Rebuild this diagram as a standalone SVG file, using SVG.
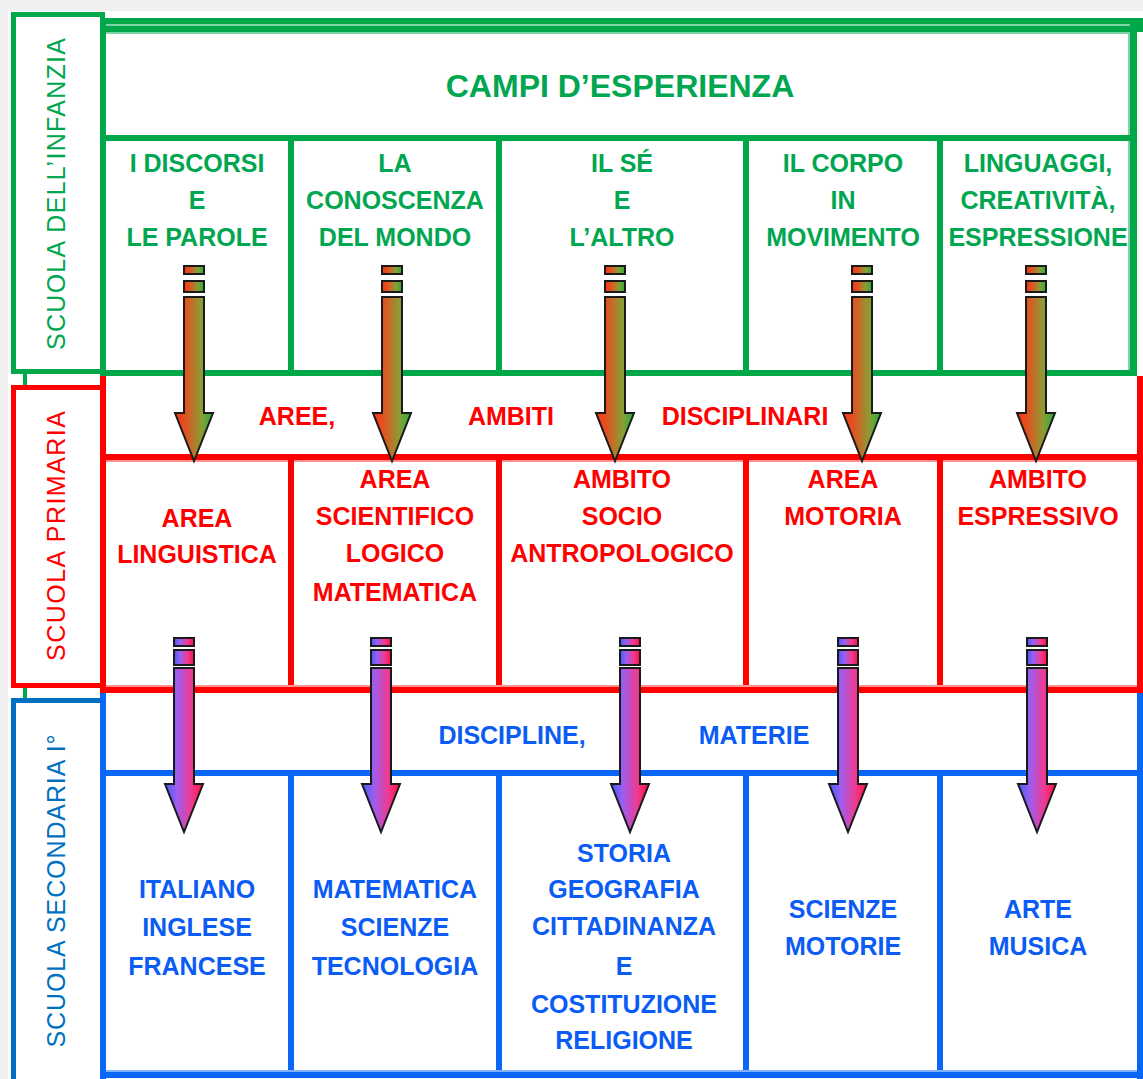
<svg xmlns="http://www.w3.org/2000/svg" xmlns:xlink="http://www.w3.org/1999/xlink" width="1143" height="1079" viewBox="0 0 1143 1079">
<defs>
<style>
.t{font-family:"Liberation Sans",Arial,sans-serif;font-weight:bold;font-size:25px;text-anchor:middle}
.big{font-size:32px}
.g{fill:#00a650}
.r{fill:#ff0000}
.b{fill:#0a5cf5}
.v{font-family:"Liberation Sans",Arial,sans-serif;font-size:25px;text-anchor:middle}
.gl{fill:#00a84a}
.rl{fill:#ff0000}
.bl{fill:#0a66f5}
.ar{stroke:#1a1a1a;stroke-width:2}
</style>
<linearGradient id="gg" x1="0" y1="0" x2="1" y2="0">
<stop offset="0" stop-color="#ff3010"/>
<stop offset="0.3" stop-color="#de5622"/>
<stop offset="0.7" stop-color="#8a9e34"/>
<stop offset="1" stop-color="#20b040"/>
</linearGradient>
<linearGradient id="pg" x1="0" y1="0" x2="1" y2="0">
<stop offset="0" stop-color="#3c5cff"/>
<stop offset="0.3" stop-color="#9a5ef0"/>
<stop offset="0.7" stop-color="#f03a90"/>
<stop offset="1" stop-color="#ff1040"/>
</linearGradient>
<g id="garrow">
<rect x="-10" y="266" width="20" height="8" fill="url(#gg)" class="ar"/>
<rect x="-10" y="281" width="20" height="11" fill="url(#gg)" class="ar"/>
<path d="M-10 297 H10 V413 H19 L0 461 L-19 413 H-10 Z" fill="url(#gg)" class="ar"/>
</g>
<g id="parrow">
<rect x="-10" y="638" width="20" height="8" fill="url(#pg)" class="ar"/>
<rect x="-10" y="650" width="20" height="15" fill="url(#pg)" class="ar"/>
<path d="M-10 668 H10 V784 H19 L0 832 L-19 784 H-10 Z" fill="url(#pg)" class="ar"/>
</g>
</defs>

<rect x="0" y="0" width="1143" height="1079" fill="#f0f0f0"/>
<rect x="8" y="11" width="1135" height="1068" fill="#ffffff"/>

<g id="side-labels">
<rect x="23" y="372" width="4" height="328" fill="#00a84a"/>
<g id="label-infanzia">
<rect x="13.5" y="14.5" width="89" height="357" fill="#fff" stroke="#00a84a" stroke-width="5"/>
<text class="v" fill="#00a650" transform="translate(65,194) rotate(-90)" textLength="312" lengthAdjust="spacing">SCUOLA DELL’INFANZIA</text>
</g>
<g id="label-primaria">
<rect x="13.5" y="387.5" width="89" height="298" fill="#fff" stroke="#ff0000" stroke-width="5"/>
<text class="v" fill="#ff0000" transform="translate(65,536) rotate(-90)" textLength="250" lengthAdjust="spacing">SCUOLA PRIMARIA</text>
</g>
<g id="label-secondaria">
<rect x="13.5" y="700.5" width="89" height="390" fill="#fff" stroke="#0070c0" stroke-width="5"/>
<text class="v" fill="#0070c0" transform="translate(65,891) rotate(-90)" textLength="313" lengthAdjust="spacing">SCUOLA SECONDARIA I°</text>
</g>
</g>

<g id="grid">
<rect class="gl" x="100" y="18" width="1043" height="14"/>
<rect x="106" y="24" width="1024" height="2" fill="#7dd3a3"/>
<rect x="106" y="32" width="1022" height="2" fill="#7dd3a3"/>
<rect class="gl" x="100" y="18" width="6" height="358"/>
<rect class="gl" x="1130" y="18" width="7" height="358"/>
<rect x="1128" y="32" width="2" height="340" fill="#7dd3a3"/>
<rect class="gl" x="100" y="135" width="1037" height="6"/>
<rect class="gl" x="288" y="138" width="6" height="234"/>
<rect class="gl" x="496" y="138" width="6" height="234"/>
<rect class="gl" x="743" y="138" width="6" height="234"/>
<rect class="gl" x="937" y="138" width="6" height="234"/>
<rect class="gl" x="100" y="370" width="1037" height="6"/>
<rect class="rl" x="100" y="376" width="6" height="318"/>
<rect class="rl" x="1137" y="376" width="6" height="318"/>
<rect class="rl" x="100" y="454" width="1043" height="6"/>
<rect x="106" y="460" width="1031" height="2" fill="#ff9090"/>
<rect class="rl" x="288" y="457" width="6" height="233"/>
<rect class="rl" x="496" y="457" width="6" height="233"/>
<rect class="rl" x="743" y="457" width="6" height="233"/>
<rect class="rl" x="937" y="457" width="6" height="233"/>
<rect class="rl" x="100" y="687" width="1043" height="6"/>
<rect x="106" y="685" width="1031" height="2" fill="#ff9090"/>
<rect class="bl" x="100" y="693" width="6" height="386"/>
<rect class="bl" x="1137" y="693" width="6" height="386"/>
<rect class="bl" x="100" y="770" width="1043" height="6"/>
<rect class="bl" x="288" y="773" width="6" height="303"/>
<rect class="bl" x="496" y="773" width="6" height="303"/>
<rect class="bl" x="743" y="773" width="6" height="303"/>
<rect class="bl" x="937" y="773" width="6" height="303"/>
<rect class="bl" x="100" y="1072" width="1043" height="6"/>
<rect x="106" y="1070" width="1031" height="2" fill="#80b0ff"/>
</g>

<g id="infanzia-cells">
<g id="campi"><text class="t g big" x="620" y="97">CAMPI D’ESPERIENZA</text></g>
<g id="discorsi"><text class="t g" x="197" y="172">I DISCORSI</text><text class="t g" x="197" y="209">E</text><text class="t g" x="197" y="246">LE PAROLE</text></g>
<g id="conoscenza"><text class="t g" x="395" y="172">LA</text><text class="t g" x="395" y="209">CONOSCENZA</text><text class="t g" x="395" y="246">DEL MONDO</text></g>
<g id="se-altro"><text class="t g" x="622" y="172">IL SÉ</text><text class="t g" x="622" y="209">E</text><text class="t g" x="622" y="246">L’ALTRO</text></g>
<g id="corpo"><text class="t g" x="843" y="172">IL CORPO</text><text class="t g" x="843" y="209">IN</text><text class="t g" x="843" y="246">MOVIMENTO</text></g>
<g id="linguaggi"><text class="t g" x="1038" y="172">LINGUAGGI,</text><text class="t g" x="1038" y="209">CREATIVITÀ,</text><text class="t g" x="1038" y="246">ESPRESSIONE</text></g>
</g>

<g id="primaria-cells">
<g id="aree-header"><text class="t r" x="297" y="425">AREE,</text><text class="t r" x="511" y="425">AMBITI</text><text class="t r" x="745" y="425">DISCIPLINARI</text></g>
<g id="area-linguistica"><text class="t r" x="197" y="527">AREA</text><text class="t r" x="197" y="563">LINGUISTICA</text></g>
<g id="area-scientifica"><text class="t r" x="395" y="488">AREA</text><text class="t r" x="395" y="525">SCIENTIFICO</text><text class="t r" x="395" y="562">LOGICO</text><text class="t r" x="395" y="601">MATEMATICA</text></g>
<g id="ambito-socio"><text class="t r" x="622" y="488">AMBITO</text><text class="t r" x="622" y="525">SOCIO</text><text class="t r" x="622" y="562">ANTROPOLOGICO</text></g>
<g id="area-motoria"><text class="t r" x="843" y="488">AREA</text><text class="t r" x="843" y="525">MOTORIA</text></g>
<g id="ambito-espressivo"><text class="t r" x="1038" y="488">AMBITO</text><text class="t r" x="1038" y="525">ESPRESSIVO</text></g>
</g>

<g id="secondaria-cells">
<g id="discipline-header"><text class="t b" x="512" y="744">DISCIPLINE,</text><text class="t b" x="754" y="744">MATERIE</text></g>
<g id="lingue"><text class="t b" x="197" y="898">ITALIANO</text><text class="t b" x="197" y="936">INGLESE</text><text class="t b" x="197" y="975">FRANCESE</text></g>
<g id="scienze"><text class="t b" x="395" y="898">MATEMATICA</text><text class="t b" x="395" y="936">SCIENZE</text><text class="t b" x="395" y="975">TECNOLOGIA</text></g>
<g id="storia"><text class="t b" x="624" y="862">STORIA</text><text class="t b" x="624" y="898">GEOGRAFIA</text><text class="t b" x="624" y="935">CITTADINANZA</text><text class="t b" x="624" y="975">E</text><text class="t b" x="624" y="1013">COSTITUZIONE</text><text class="t b" x="624" y="1049">RELIGIONE</text></g>
<g id="motorie"><text class="t b" x="843" y="918">SCIENZE</text><text class="t b" x="843" y="955">MOTORIE</text></g>
<g id="arte"><text class="t b" x="1038" y="918">ARTE</text><text class="t b" x="1038" y="955">MUSICA</text></g>
</g>

<g id="connectors">
<use xlink:href="#garrow" x="194"/>
<use xlink:href="#garrow" x="392"/>
<use xlink:href="#garrow" x="615"/>
<use xlink:href="#garrow" x="862"/>
<use xlink:href="#garrow" x="1036"/>
<use xlink:href="#parrow" x="184"/>
<use xlink:href="#parrow" x="381"/>
<use xlink:href="#parrow" x="630"/>
<use xlink:href="#parrow" x="848"/>
<use xlink:href="#parrow" x="1037"/>
</g>
</svg>
